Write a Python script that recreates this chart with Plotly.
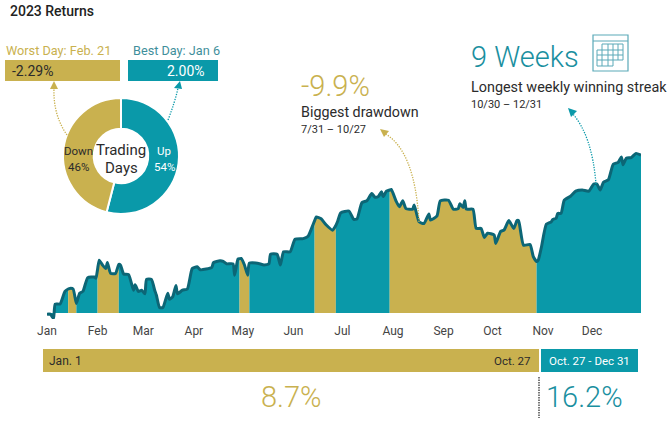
import pandas as pd
import plotly.graph_objects as go

W, H = 672, 424
TEAL = "#0a99a9"
GOLD = "#c9b14f"
LINE = "#0c6676"
DARK = "#2b2b2b"

# Cumulative return (%), by day of the year (0 = Jan 1)
days = [0, 2, 4, 5, 8, 11, 13, 14, 16, 18, 20, 22, 25, 29, 30, 31, 32, 34, 36, 37, 39, 42, 44, 45, 47, 50,
        53, 54, 56, 58, 60, 61, 64, 66, 67, 69, 71, 74, 75, 77, 79, 80, 83, 86, 89, 92, 94, 101, 102, 106,
        108, 110, 114, 115, 117, 118, 119, 121, 123, 124, 129, 133, 136, 137, 141, 143, 145, 149, 152, 157,
        160, 163, 164, 165, 168, 171, 175, 177, 178, 180, 185, 188, 190, 193, 196, 199, 201, 203, 205, 206,
        208, 210, 211, 214, 216, 218, 220, 224, 225, 228, 231, 234, 235, 239, 241, 246, 249, 252, 253, 255,
        256, 257, 261, 263, 266, 268, 270, 274, 275, 278, 280, 283, 286, 288, 289, 292, 296, 298, 300, 301,
        303, 306, 309, 310, 312, 313, 315, 317, 321, 324, 328, 332, 335, 337, 339, 341, 344, 347, 350, 352,
        353, 355, 358, 361, 364]
returns = [-0.2, -0.2, -0.9, 1.5, 1.5, 3.6, 4.0, 4.1, 4.0, 1.6, 3.3, 3.6, 5.9, 6.0, 5.8, 7.3, 8.8, 8.0, 7.4, 8.4, 6.6, 6.6, 8.1, 8.0, 6.5, 6.4,
           3.8, 4.7, 3.6, 3.8, 3.2, 5.6, 5.6, 3.8, 3.0, 0.9, 0.9, 3.3, 2.3, 2.7, 4.6, 3.2, 3.8, 4.0, 7.4, 7.7, 7.2, 7.6, 8.4, 8.7,
           8.6, 8.2, 8.2, 6.3, 9.0, 9.05, 9.1, 8.0, 6.3, 8.3, 8.3, 8.0, 8.2, 9.8, 9.8, 8.0, 10.2, 10.2, 12.3, 12.4,
           12.8, 14.7, 15.4, 16.0, 15.7, 14.7, 13.8, 14.6, 15.2, 16.7, 17.0, 15.6, 15.7, 18.4, 18.7, 19.9, 19.3, 19.4, 20.2, 19.4,
           20.3, 20.5, 20.6, 18.6, 17.7, 18.7, 17.4, 17.3, 18.0, 15.2, 14.9, 16.5, 15.5, 16.2, 18.7, 18.8, 17.3, 17.4, 18.2, 17.6,
           18.7, 17.3, 17.3, 14.1, 14.1, 12.6, 13.3, 13.0, 11.6, 13.6, 13.8, 15.4, 14.1, 15.4, 15.4, 11.3, 11.4, 9.4, 8.6, 8.8,
           11.0, 14.8, 15.2, 15.6, 15.8, 16.6, 16.6, 18.8, 19.5, 20.3, 20.5, 20.3, 21.5, 21.5, 20.5, 21.8, 22.2, 24.8, 25.1, 26.0,
           24.7, 25.8, 25.9, 26.6, 26.3]

# Fill colour changes at these days
break_days = [0, 13, 18, 31, 44, 118, 124, 164, 177, 210, 300, 364]
break_colors = [TEAL, GOLD, TEAL, GOLD, TEAL, GOLD, TEAL, GOLD, TEAL, GOLD, TEAL]

month_names = ["Jan", "Feb", "Mar", "Apr", "May", "Jun", "Jul", "Aug", "Sep", "Oct", "Nov", "Dec"]
month_starts = pd.date_range("2023-01-01", periods=12, freq="MS")

pie_labels = ["Up", "Down"]
pie_values = [54, 46]


def px(x):
    return x / W


def py(y):
    return 1 - y / H


df = pd.DataFrame({"day": days, "ret": returns})
df["date"] = pd.Timestamp("2023-01-01") + pd.to_timedelta(df["day"], unit="D")

fig = go.Figure()

# Coloured areas under the line
for i, color in enumerate(break_colors):
    seg = df[(df["day"] >= break_days[i]) & (df["day"] <= break_days[i + 1])]
    fig.add_trace(go.Scatter(x=seg["date"], y=seg["ret"], mode="lines", fill="tozeroy",
                             fillcolor=color, line=dict(width=0, shape="spline", smoothing=0.5), hoverinfo="skip"))

fig.add_trace(go.Scatter(x=df["date"], y=df["ret"], mode="lines",
                         line=dict(color=LINE, width=3, shape="spline", smoothing=0.5)))

fig.add_trace(go.Pie(labels=pie_labels, values=pie_values, sort=False, direction="clockwise", rotation=0,
                     hole=0.47, textinfo="none", marker=dict(colors=[TEAL, GOLD], line=dict(color="white", width=2)),
                     domain=dict(x=[px(63), px(179)], y=[py(214), py(98)])))


def rect(x0, y0, x1, y1, color):
    return dict(type="rect", xref="paper", yref="paper", x0=px(x0), x1=px(x1), y0=py(y0), y1=py(y1),
                fillcolor=color, line=dict(width=0), layer="below")


def curve(x0, y0, cx, cy, x1, y1, color):
    path = f"M {px(x0)} {py(y0)} Q {px(cx)} {py(cy)} {px(x1)} {py(y1)}"
    return dict(type="path", xref="paper", yref="paper", path=path,
                line=dict(color=color, width=1.3, dash="1.3px,1.3px"))


def head(x0, y0, x1, y1, x2, y2, color):
    path = f"M {px(x0)} {py(y0)} L {px(x1)} {py(y1)} L {px(x2)} {py(y2)} Z"
    return dict(type="path", xref="paper", yref="paper", path=path, fillcolor=color, line=dict(width=0))


def seg(x0, y0, x1, y1, width=1):
    return dict(type="line", xref="paper", yref="paper", x0=px(x0), x1=px(x1), y0=py(y0), y1=py(y1),
                line=dict(color="#5aa9b8", width=width))


shapes = [
    rect(5, 60, 120, 81, GOLD),
    rect(128, 60, 218, 81, TEAL),
    rect(43, 349, 539, 372, GOLD),
    rect(541, 349, 638, 372, TEAL),
    curve(67, 135, 53, 115, 54, 88, GOLD),
    head(54, 81, 50, 89, 58, 89, GOLD),
    curve(168, 120, 175, 102, 178, 88, TEAL),
    head(180, 81, 174, 88, 182, 89, TEAL),
    curve(419, 222, 415, 150, 384, 133, GOLD),
    head(380, 129, 389, 131, 384, 137, GOLD),
    curve(596, 184, 592, 135, 572, 113, TEAL),
    head(568, 108, 577, 111, 571, 117, TEAL),
    dict(type="line", xref="paper", yref="paper", x0=px(539), x1=px(539), y0=py(377), y1=py(418),
         line=dict(color="#222222", width=1.2, dash="1.5px,1px")),
    # calendar icon
    dict(type="rect", xref="paper", yref="paper", x0=px(593), x1=px(628), y0=py(35), y1=py(71),
         line=dict(color="#5aa9b8", width=1.2)),
    seg(593, 41, 628, 41),
    seg(602, 44, 623, 44), seg(602, 44, 602, 50), seg(608, 44, 608, 66), seg(613, 44, 613, 66),
    seg(618, 44, 618, 60), seg(623, 44, 623, 60),
    seg(597, 50, 623, 50), seg(597, 55, 623, 55), seg(597, 60, 623, 60), seg(597, 66, 613, 66),
    seg(597, 50, 597, 66), seg(602, 50, 602, 66),
]


def note(x, y, text, size, color=DARK, anchor="left", weight=400):
    fig.add_annotation(xref="paper", yref="paper", x=px(x), y=py(y), text=text, showarrow=False,
                       xanchor=anchor, yanchor="middle", borderpad=0,
                       font=dict(family="Roboto", size=size, color=color, weight=weight))


note(9, 11, "2023 Returns", 14, "#222222", weight=500)
note(5, 50, "Worst Day: Feb. 21", 12.7, GOLD)
note(132, 50, "Best Day: Jan 6", 12.7, "#3f8f9b")
note(11, 71, "-2.29%", 14)
note(186, 71, "2.00%", 14, "white", "center")
note(121, 150, "Trading", 15, DARK, "center")
note(121, 168, "Days", 15, DARK, "center")
note(78, 151, "Down", 11.5, DARK, "center")
note(78, 167, "46%", 11.5, DARK, "center")
note(164, 151, "Up", 11.5, "white", "center")
note(164, 167, "54%", 11.5, "white", "center")
note(300, 86, "-9.9%", 29, GOLD, weight=300)
note(300, 112, "Biggest drawdown", 14.3)
note(300, 129, "7/31 – 10/27", 11)
note(470, 57, "9 Weeks", 29, "#1a8fa0", weight=300)
note(470, 88, "Longest weekly winning streak", 14.4)
note(470, 105, "10/30 – 12/31", 11)
note(48, 361, "Jan. 1", 12)
note(532, 361, "Oct. 27", 11.5, DARK, "right")
note(589, 361, "Oct. 27 - Dec 31", 11.5, "white", "center")
note(291, 397, "8.7%", 29, GOLD, "center", weight=300)
note(584, 397, "16.2%", 29, "#1a8fa0", "center", weight=300)

fig.update_layout(
    width=W, height=H,
    margin=dict(l=0, r=0, t=0, b=0, autoexpand=False),
    paper_bgcolor="white", plot_bgcolor="white",
    showlegend=False,
    shapes=shapes,
    font=dict(family="Roboto", color="#444444"),
    xaxis=dict(domain=[px(47), px(641)], range=["2023-01-01", "2023-12-31"], type="date",
               tickmode="array", tickvals=list(month_starts), ticktext=month_names,
               showgrid=False, zeroline=False, showline=False, ticks="", ticklabelstandoff=3,
               tickfont=dict(size=12, color="#444444")),
    yaxis=dict(domain=[py(319), py(133)], range=[-1, 30], visible=False),
)

# the page's default body margin would push the figure off its 672x424 window
fig.write_html("out.html", config={"displayModeBar": False}, post_script="document.body.style.margin='0';")
